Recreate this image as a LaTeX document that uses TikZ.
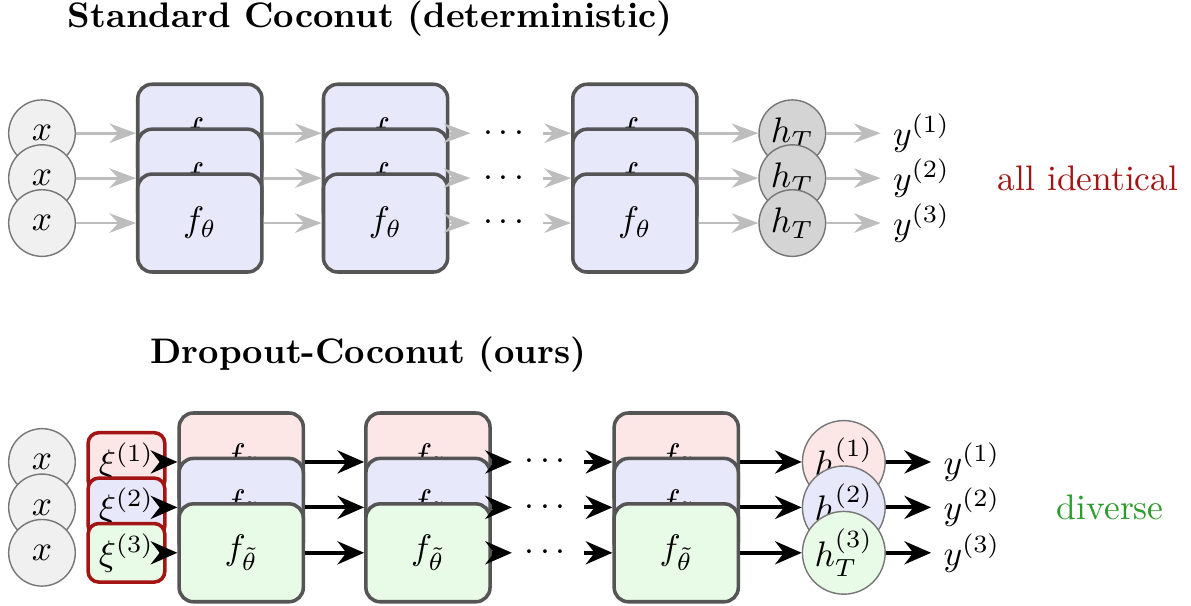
\documentclass[tikz,border=0pt]{standalone}
\usepackage{amsmath}
\usepackage{amssymb}
\usepackage{tikz}
\usetikzlibrary{arrows.meta, positioning}
\definecolor{framegray}{HTML}{555555}
\definecolor{ringgray}{HTML}{777777}
\definecolor{inputgray}{HTML}{F0F0F0}
\definecolor{headgray}{HTML}{D4D4D4}
\definecolor{arrowgray}{HTML}{BDBDBD}
\definecolor{lightblue}{HTML}{E8E8FB}
\definecolor{lightred}{HTML}{FDE6E6}
\definecolor{lightgreen}{HTML}{E8FBE6}
\definecolor{noisered}{HTML}{A31515}
\definecolor{okgreen}{HTML}{2E9B2E}

\begin{document}
\begin{tikzpicture}[
		fbox/.style={draw=framegray, line width=1pt, rounded corners=4pt,
			minimum width=1.23cm, minimum height=0.97cm},
		inp/.style={circle, draw=ringgray, fill=inputgray, minimum size=0.66cm, inner sep=0pt},
		head/.style={circle, draw=ringgray, minimum size=0.66cm, inner sep=0pt},
		noise/.style={draw=noisered, line width=1pt, rounded corners=3pt,
			minimum width=0.76cm, minimum height=0.58cm, inner sep=0pt},
		flow/.style={-{Stealth[length=7.5pt, width=5.5pt, inset=2.5pt]}, thick, arrowgray},
		dflow/.style={-{Stealth[length=7.5pt, width=6.5pt, inset=2.5pt]}, line width=1.1pt, black},
		title/.style={anchor=base west, inner sep=0pt, font=\bfseries}
	]
	\useasboundingbox (0,0) rectangle (11.8,-6.004);

	% deterministic
	\node[title] (t1) at (0.664,-0.268) {Standard Coconut (deterministic)};
	\foreach \i/\yy in {1/-1.32,2/-1.765,3/-2.21} {
		\node[inp] (x\i) at (0.416,\yy) {$x$};
		\node[fbox, fill=lightblue] (fa\i) at (1.98,\yy) {$f_\theta$};
		\node[fbox, fill=lightblue] (fb\i) at (3.82,\yy) {$f_\theta$};
		\node (d\i) at (5.02,\yy) {$\cdots$};
		\node[fbox, fill=lightblue] (fc\i) at (6.29,\yy) {$f_\theta$};
		\node[head, fill=headgray] (h\i) at (7.85,\yy) {$h_T$};
		\node (y\i) at (9.13,\yy) {$y^{(\i)}$};
	}
	\foreach \i in {1,2,3} {
		\draw[flow] (x\i) -- (fa\i);
		\draw[flow] (fa\i) -- (fb\i);
		\draw[flow] (fb\i) -- (d\i);
		\draw[flow] (d\i) -- (fc\i);
		\draw[flow] (fc\i) -- (h\i);
		\draw[flow] (h\i) -- (y\i);
	}
	\node[text=noisered] (same) at (10.78,-1.765) {all identical};

	% dropout
	\node[title] (t2) at (1.486,-3.597) {Dropout-Coconut (ours)};
	\foreach \i/\yy/\c in {1/-4.577/lightred,2/-5.027/lightblue,3/-5.477/lightgreen} {
		\node[inp] (dx\i) at (0.416,\yy) {$x$};
		\node[noise, fill=\c] (xi\i) at (1.253,\yy) {$\xi^{(\i)}$};
		\node[fbox, fill=\c] (ga\i) at (2.39,\yy) {$f_{\tilde{\theta}}$};
		\node[fbox, fill=\c] (gb\i) at (4.24,\yy) {$f_{\tilde{\theta}}$};
		\node (e\i) at (5.43,\yy) {$\cdots$};
		\node[fbox, fill=\c] (gc\i) at (6.70,\yy) {$f_{\tilde{\theta}}$};
		\node[head, fill=\c, minimum size=0.82cm] (k\i) at (8.36,\yy) {$h_T^{(\i)}$};
		\node (z\i) at (9.63,\yy) {$y^{(\i)}$};
	}
	\foreach \i in {1,2,3} {
		\draw[dflow] (xi\i) -- (ga\i);
		\draw[dflow] (ga\i) -- (gb\i);
		\draw[dflow] (gb\i) -- (e\i);
		\draw[dflow] (e\i) -- (gc\i);
		\draw[dflow] (gc\i) -- (k\i);
		\draw[dflow] (k\i) -- (z\i);
	}
	\node[text=okgreen] (div) at (11.0,-5.027) {diverse};
\end{tikzpicture}
\end{document}
